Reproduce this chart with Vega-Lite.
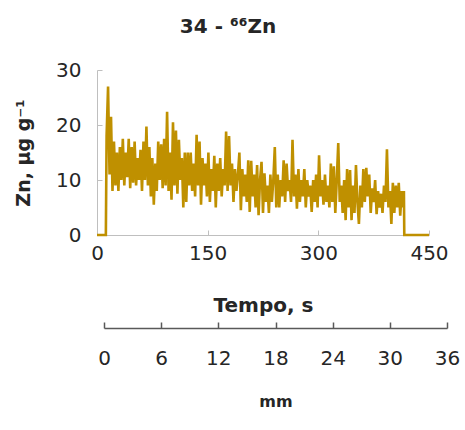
{
  "$schema": "https://vega.github.io/schema/vega-lite/v6.json",
  "width": 332,
  "height": 165,
  "autosize": {"type": "none"},
  "padding": {"left": 97, "top": 70, "right": 36, "bottom": 195},
  "background": "white",
  "config": {
    "view": {"stroke": null},
    "font": "DejaVu Sans",
    "axis": {"grid": false, "labelFont": "DejaVu Sans", "titleFont": "DejaVu Sans", "labelColor": "#262626", "titleColor": "#262626"}
  },
  "title": {"text": "34 - ⁶⁶Zn", "fontSize": 20, "fontWeight": "bold", "font": "DejaVu Sans", "color": "#262626", "anchor": "middle", "dx": -35, "offset": 23},
  "resolve": {"scale": {"x": "independent"}, "axis": {"x": "independent"}},
  "layer": [
    {
      "data": {"values": [
        {"t":0,"v":0},{"t":12,"v":0},{"t":13,"v":18},{"t":15,"v":27},{"t":17,"v":11},{"t":19,"v":21.5},{"t":21,"v":8},{"t":23,"v":17},{"t":25,"v":9},{"t":27,"v":15},{"t":29,"v":8},{"t":31,"v":16},{"t":33,"v":10},{"t":35,"v":17.5},{"t":37,"v":9},{"t":39,"v":15},{"t":41,"v":10.5},{"t":43,"v":17.5},{"t":45,"v":8.5},{"t":47,"v":16},{"t":49,"v":9.5},{"t":51,"v":17},{"t":53,"v":9},{"t":55,"v":14},{"t":57,"v":10},{"t":59,"v":15.5},{"t":61,"v":8},{"t":63,"v":17},{"t":65,"v":10},{"t":67,"v":19.7},{"t":69,"v":9},{"t":71,"v":16},{"t":73,"v":7},{"t":75,"v":14},{"t":77,"v":5.5},{"t":79,"v":13},{"t":81,"v":8},{"t":83,"v":17},{"t":85,"v":10},{"t":87,"v":16.5},{"t":89,"v":8.5},{"t":91,"v":17.5},{"t":93,"v":9},{"t":95,"v":22.4},{"t":97,"v":8},{"t":99,"v":15},{"t":101,"v":6.4},{"t":103,"v":20.5},{"t":105,"v":9},{"t":107,"v":19},{"t":109,"v":7.5},{"t":111,"v":17.3},{"t":113,"v":10},{"t":115,"v":14},{"t":117,"v":5},{"t":119,"v":15},{"t":121,"v":6},{"t":123,"v":15},{"t":125,"v":9},{"t":127,"v":15},{"t":129,"v":8},{"t":131,"v":13},{"t":133,"v":7},{"t":135,"v":18.2},{"t":137,"v":9},{"t":139,"v":17},{"t":141,"v":5.5},{"t":143,"v":14},{"t":145,"v":9},{"t":147,"v":13},{"t":149,"v":7},{"t":151,"v":15},{"t":153,"v":6},{"t":155,"v":12},{"t":157,"v":8},{"t":159,"v":14.4},{"t":161,"v":5},{"t":163,"v":13},{"t":165,"v":8},{"t":167,"v":14},{"t":169,"v":7},{"t":171,"v":12},{"t":173,"v":9},{"t":175,"v":18.8},{"t":177,"v":8},{"t":179,"v":18},{"t":181,"v":9},{"t":183,"v":13},{"t":185,"v":6},{"t":187,"v":12},{"t":189,"v":8},{"t":191,"v":11},{"t":193,"v":15},{"t":195,"v":4.5},{"t":197,"v":12},{"t":199,"v":7},{"t":201,"v":11},{"t":203,"v":6},{"t":205,"v":13.6},{"t":207,"v":4.2},{"t":209,"v":13.5},{"t":211,"v":7},{"t":213,"v":11},{"t":215,"v":5},{"t":217,"v":12.7},{"t":219,"v":3.6},{"t":221,"v":10},{"t":223,"v":13.3},{"t":225,"v":4},{"t":227,"v":11.2},{"t":229,"v":6},{"t":231,"v":9},{"t":233,"v":4},{"t":235,"v":11},{"t":237,"v":6},{"t":239,"v":10},{"t":241,"v":16},{"t":243,"v":5},{"t":245,"v":11},{"t":247,"v":5},{"t":249,"v":10},{"t":251,"v":7},{"t":253,"v":13.6},{"t":255,"v":6},{"t":257,"v":13},{"t":259,"v":8},{"t":261,"v":10},{"t":263,"v":6},{"t":265,"v":17.3},{"t":267,"v":7},{"t":269,"v":11},{"t":271,"v":4.8},{"t":273,"v":12},{"t":275,"v":6},{"t":277,"v":10},{"t":279,"v":7},{"t":281,"v":12},{"t":283,"v":5},{"t":285,"v":10},{"t":287,"v":7},{"t":289,"v":9},{"t":291,"v":4.2},{"t":293,"v":10},{"t":295,"v":6},{"t":297,"v":11},{"t":299,"v":5},{"t":301,"v":14.5},{"t":303,"v":7},{"t":305,"v":10},{"t":307,"v":5.5},{"t":309,"v":11},{"t":311,"v":6},{"t":313,"v":9},{"t":315,"v":5},{"t":317,"v":13},{"t":319,"v":6},{"t":321,"v":12.5},{"t":323,"v":4},{"t":325,"v":10},{"t":327,"v":16.7},{"t":329,"v":6},{"t":331,"v":9},{"t":333,"v":4},{"t":335,"v":10},{"t":337,"v":2.7},{"t":339,"v":12},{"t":341,"v":5},{"t":343,"v":11.8},{"t":345,"v":2.7},{"t":347,"v":9},{"t":349,"v":4},{"t":351,"v":12.7},{"t":353,"v":6},{"t":355,"v":2},{"t":357,"v":9},{"t":359,"v":5},{"t":361,"v":12},{"t":363,"v":6},{"t":365,"v":12.2},{"t":367,"v":7},{"t":369,"v":11},{"t":371,"v":4},{"t":373,"v":8.5},{"t":375,"v":6},{"t":377,"v":10},{"t":379,"v":3.8},{"t":381,"v":8},{"t":383,"v":5},{"t":385,"v":7.5},{"t":387,"v":4},{"t":389,"v":9},{"t":391,"v":6},{"t":393,"v":15.6},{"t":395,"v":5},{"t":397,"v":8},{"t":399,"v":2},{"t":401,"v":9.5},{"t":403,"v":4},{"t":405,"v":9},{"t":407,"v":5},{"t":409,"v":9.5},{"t":411,"v":3.5},{"t":413,"v":8},{"t":415,"v":5},{"t":416,"v":8},{"t":416.5,"v":0},{"t":450,"v":0}
      ]},
      "mark": {"type": "line", "color": "#BF9000", "strokeWidth": 2.6, "strokeJoin": "miter", "clip": false},
      "encoding": {
        "x": {"field": "t", "type": "quantitative", "scale": {"domain": [0, 450], "nice": false},
          "axis": {"values": [0, 150, 300, 450], "title": "Tempo, s", "labelFontSize": 20, "titleFontSize": 20, "titleFontWeight": "bold", "domainColor": "#BFBFBF", "tickColor": "#BFBFBF", "tickSize": -5, "labelPadding": 13, "titlePadding": 32, "labelFlush": false}},
        "y": {"field": "v", "type": "quantitative", "scale": {"domain": [0, 30], "nice": false},
          "axis": {"values": [0, 10, 20, 30], "title": "Zn, µg g⁻¹", "labelFontSize": 20, "titleFontSize": 19, "titleFontWeight": "bold", "domainColor": "#BFBFBF", "tickColor": "#BFBFBF", "tickSize": -5, "labelPadding": 21, "titlePadding": 22, "labelFlush": false}}
      }
    },
    {
      "data": {"values": [{"mm": 0}, {"mm": 36}]},
      "mark": {"type": "point", "opacity": 0},
      "encoding": {
        "x": {"field": "mm", "type": "quantitative", "scale": {"domain": [0, 36], "range": [7, 350], "nice": false},
          "axis": {"orient": "bottom", "offset": 93, "values": [0, 6, 12, 18, 24, 30, 36], "title": "mm", "labelFontSize": 20, "titleFontSize": 16, "titleFontWeight": "bold", "domainColor": "#595959", "tickColor": "#595959", "domainWidth": 1.5, "tickWidth": 1.5, "tickSize": -6, "labelPadding": 26, "titlePadding": 25, "labelFlush": false}}
      }
    }
  ]
}
